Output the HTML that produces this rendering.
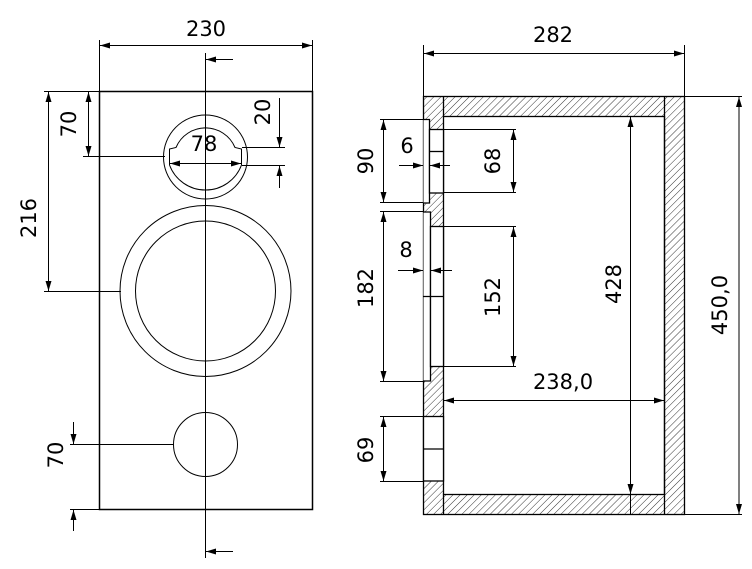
<!DOCTYPE html>
<html><head><meta charset="utf-8"><style>
html,body{margin:0;padding:0;background:#fff}
svg{display:block}
text{font-family:"DejaVu Sans","Liberation Sans",sans-serif;font-size:21px;fill:#000}
</style></head><body>
<svg width="752" height="569" viewBox="0 0 752 569" xmlns="http://www.w3.org/2000/svg">
<defs>
<pattern id="h" patternUnits="userSpaceOnUse" width="5" height="5" patternTransform="rotate(45)">
<line x1="0" y1="0" x2="0" y2="5" stroke="#000" stroke-width="0.8"/>
</pattern>
<marker id="a" viewBox="0 0 10 6" refX="10" refY="3" markerWidth="10" markerHeight="6" orient="auto-start-reverse" markerUnits="userSpaceOnUse">
<path d="M0,0 L10,3 L0,6 z" fill="#000"/>
</marker>
</defs>
<g fill="none" stroke="#000" stroke-width="1">
<!-- LEFT VIEW -->
<rect x="99.5" y="91.5" width="213" height="418" stroke-width="1.5"/>
<line x1="205.5" y1="53" x2="205.5" y2="558"/>
<line x1="233" y1="59.5" x2="206" y2="59.5" marker-end="url(#a)"/>
<line x1="233" y1="551.5" x2="206" y2="551.5" marker-end="url(#a)"/>
<line x1="99.5" y1="40" x2="99.5" y2="91"/>
<line x1="312.5" y1="40" x2="312.5" y2="91"/>
<line x1="100" y1="45.5" x2="312" y2="45.5" marker-start="url(#a)" marker-end="url(#a)"/>
<!-- tweeter -->
<circle cx="205.5" cy="157" r="42"/>
<path d="M169.5,165 L169.5,149 L176,147.5 A32,32 0 0 1 235,147.5 L241.5,149 L241.5,165 A38.4,38.4 0 0 1 169.5,165"/>
<line x1="170" y1="163.5" x2="241" y2="163.5" marker-start="url(#a)" marker-end="url(#a)"/>
<line x1="242" y1="147.5" x2="285" y2="147.5"/>
<line x1="242" y1="165.5" x2="285" y2="165.5"/>
<line x1="279.5" y1="98" x2="279.5" y2="147" marker-end="url(#a)"/>
<line x1="279.5" y1="188" x2="279.5" y2="166" marker-end="url(#a)"/>
<line x1="83" y1="156.5" x2="165" y2="156.5"/>
<line x1="88.5" y1="92" x2="88.5" y2="156" marker-start="url(#a)" marker-end="url(#a)"/>
<line x1="44" y1="91.5" x2="99" y2="91.5"/>
<line x1="44" y1="291.5" x2="121" y2="291.5"/>
<line x1="48.5" y1="92" x2="48.5" y2="291" marker-start="url(#a)" marker-end="url(#a)"/>
<circle cx="205.5" cy="291" r="85.5"/>
<circle cx="205.5" cy="291" r="70"/>
<circle cx="205.5" cy="444.5" r="32"/>
<line x1="70" y1="444.5" x2="173" y2="444.5"/>
<line x1="70" y1="509.5" x2="99" y2="509.5"/>
<line x1="73.5" y1="422" x2="73.5" y2="444" marker-end="url(#a)"/>
<line x1="73.5" y1="531" x2="73.5" y2="510" marker-end="url(#a)"/>

<!-- RIGHT VIEW -->
<g stroke="none" fill="url(#h)">
<rect x="443" y="96" width="221" height="20.5"/>
<rect x="443" y="494" width="221" height="20.5"/>
<rect x="664" y="96" width="20.5" height="418.5"/>
<rect x="423" y="96" width="20" height="23"/>
<rect x="429" y="119" width="14" height="10"/>
<rect x="429" y="193" width="14" height="33"/>
<rect x="423" y="203" width="6" height="9"/>
<rect x="430" y="367" width="13" height="14"/>
<rect x="423" y="381" width="20" height="36"/>
<rect x="423" y="481" width="20" height="33.5"/>
</g>
<g stroke-width="1.3">
<rect x="423.5" y="96.5" width="261" height="418"/>
<rect x="443.5" y="116.5" width="221" height="378"/>
<line x1="664.5" y1="96.5" x2="664.5" y2="514.5"/>
<line x1="443.5" y1="96.5" x2="443.5" y2="116.5"/>
<line x1="443.5" y1="494.5" x2="443.5" y2="514.5"/>
<path d="M423.5,119.5 H429.5 V203 H423.5" fill="#fff"/>
<rect x="429.5" y="129.5" width="14" height="63.5" fill="#fff"/>
<line x1="429.5" y1="151.5" x2="443.5" y2="151.5"/>
<path d="M423.5,212 H430.5 V381 H423.5" fill="#fff"/>
<rect x="430.5" y="226.5" width="13" height="140" fill="#fff"/>
<line x1="423.5" y1="296.5" x2="443.5" y2="296.5"/>
<rect x="423.5" y="416.5" width="20" height="64.5" fill="#fff"/>
<line x1="423.5" y1="449" x2="443.5" y2="449"/>
</g>
<line x1="423.5" y1="45" x2="423.5" y2="96"/>
<line x1="684.5" y1="45" x2="684.5" y2="96"/>
<line x1="424" y1="53.5" x2="684" y2="53.5" marker-start="url(#a)" marker-end="url(#a)"/>
<line x1="685" y1="96.5" x2="742" y2="96.5"/>
<line x1="685" y1="514.5" x2="742" y2="514.5"/>
<line x1="739" y1="97" x2="739" y2="514" marker-start="url(#a)" marker-end="url(#a)"/>
<line x1="630.5" y1="117" x2="630.5" y2="514" marker-start="url(#a)"/>
<line x1="630.5" y1="484" x2="630.5" y2="494" marker-end="url(#a)"/>
<line x1="444" y1="400.5" x2="664" y2="400.5" marker-start="url(#a)" marker-end="url(#a)"/>
<line x1="380" y1="119.5" x2="423" y2="119.5"/>
<line x1="380" y1="202.5" x2="423" y2="202.5"/>
<line x1="383.5" y1="120" x2="383.5" y2="202" marker-start="url(#a)" marker-end="url(#a)"/>
<line x1="399" y1="165.5" x2="423" y2="165.5" marker-end="url(#a)"/>
<line x1="450" y1="165.5" x2="430" y2="165.5" marker-end="url(#a)"/>
<line x1="443" y1="129.5" x2="516" y2="129.5"/>
<line x1="443" y1="192.5" x2="516" y2="192.5"/>
<line x1="513.5" y1="130" x2="513.5" y2="192" marker-start="url(#a)" marker-end="url(#a)"/>
<line x1="380" y1="211.5" x2="423" y2="211.5"/>
<line x1="380" y1="381.5" x2="423" y2="381.5"/>
<line x1="383.5" y1="212" x2="383.5" y2="381" marker-start="url(#a)" marker-end="url(#a)"/>
<line x1="398" y1="270.5" x2="423" y2="270.5" marker-end="url(#a)"/>
<line x1="452" y1="270.5" x2="431" y2="270.5" marker-end="url(#a)"/>
<line x1="443" y1="226.5" x2="516" y2="226.5"/>
<line x1="443" y1="366.5" x2="516" y2="366.5"/>
<line x1="513.5" y1="227" x2="513.5" y2="366" marker-start="url(#a)" marker-end="url(#a)"/>
<line x1="380" y1="416.5" x2="423" y2="416.5"/>
<line x1="380" y1="481.5" x2="423" y2="481.5"/>
<line x1="383.5" y1="417" x2="383.5" y2="481" marker-start="url(#a)" marker-end="url(#a)"/>
</g>
<text x="206" y="36" text-anchor="middle">230</text>
<text x="204" y="151" text-anchor="middle">78</text>
<text transform="translate(270,112) rotate(-90)" text-anchor="middle">20</text>
<text transform="translate(76,124) rotate(-90)" text-anchor="middle">70</text>
<text transform="translate(36,218) rotate(-90)" text-anchor="middle">216</text>
<text transform="translate(63,455) rotate(-90)" text-anchor="middle">70</text>
<text x="553" y="42" text-anchor="middle">282</text>
<text transform="translate(727,305) rotate(-90)" text-anchor="middle">450,0</text>
<text transform="translate(621,284) rotate(-90)" text-anchor="middle">428</text>
<text x="563" y="389" text-anchor="middle">238,0</text>
<text transform="translate(373,161) rotate(-90)" text-anchor="middle">90</text>
<text x="407" y="153" text-anchor="middle">6</text>
<text transform="translate(500,161) rotate(-90)" text-anchor="middle">68</text>
<text transform="translate(373,288) rotate(-90)" text-anchor="middle">182</text>
<text x="406" y="257" text-anchor="middle">8</text>
<text transform="translate(500,297) rotate(-90)" text-anchor="middle">152</text>
<text transform="translate(373,450) rotate(-90)" text-anchor="middle">69</text>
</svg>
</body></html>
